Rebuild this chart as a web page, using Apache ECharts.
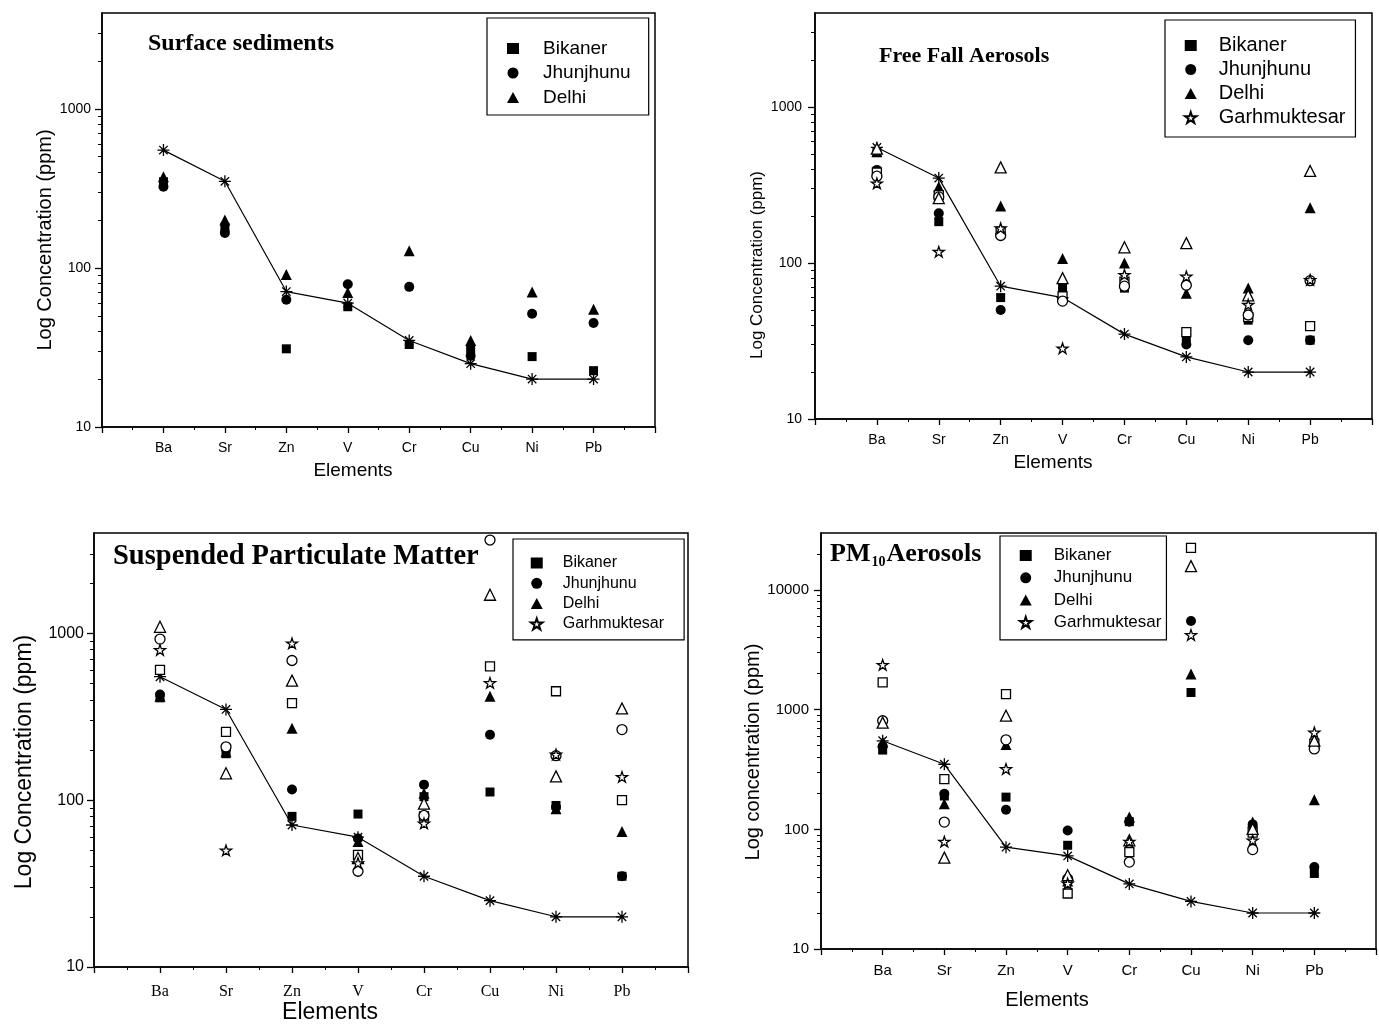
<!DOCTYPE html>
<html>
<head>
<meta charset="utf-8" />
<title>Log concentration of elements</title>
<style>
  html, body { margin: 0; padding: 0; background: #fff; }
  #chart { width: 1379px; height: 1026px; }
</style>
</head>
<body>
<div id="chart"></div>
<script src="https://cdn.jsdelivr.net/npm/echarts@6/dist/echarts.min.js"></script>
<script>
var elements = ['Ba', 'Sr', 'Zn', 'V', 'Cr', 'Cu', 'Ni', 'Pb'];
// crustal reference (asterisk line)
var crust = [550, 350, 71, 60, 35, 25, 20, 20];

// Surface sediments
var sedBikaner   = [348, 180, 31, 57, 33, 31, 27.7, 22.6];
var sedJhunjhunu = [324, 166, 63, 79, 76, 28, 51.5, 45];
var sedDelhi     = [374, 200, 91, 70, 128, 35, 70.5, 55];

// Free fall aerosols
var ffBikaner       = [510, 184, 60, 69, 69, 33, 43, 32];
var ffJhunjhunu     = [395, 208, 50, 58, 70, 30, 32, 32];
var ffDelhi         = [516, 308, 232, 107, 100, 64, 69, 226];
var ffGarh          = [324, 118, 167, 28.4, 84, 82, 54, 78];
var ffBikanerOpen   = [380, 272, 159, 61, 76, 36, 45, 39.4];
var ffJhunjhunuOpen = [360, 265, 150, 57, 71, 72, 46.4, 77];
var ffDelhiOpen     = [540, 260, 410, 80, 126, 134, 62, 389];

// Suspended particulate matter
var spmBikaner       = [411, 190, 80, 82.6, 105, 112, 93, 35];
var spmJhunjhunu     = [430, 203, 116, 59, 124, 247, 91, 35];
var spmDelhi         = [420, 195, 270, 56.5, 110, 420, 89, 65];
var spmGarh          = [796, 50, 872, 42, 72.6, 505, 188, 138];
var spmBikanerOpen   = [605, 257, 382, 47, 80, 634, 450, 100];
var spmJhunjhunuOpen = [925, 209, 688, 37.5, 81, 3630, 185, 265];
var spmDelhiOpen     = [1096, 145, 521, 45, 95.5, 1706, 139, 355];

// PM10 aerosols
var pmBikaner       = [460, 190, 186, 73.6, 116, 1393, 95, 42.8];
var pmJhunjhunu     = [494, 198, 146, 98, 116, 5520, 110, 48.5];
var pmDelhi         = [536, 164, 511, 37, 127, 1986, 115, 177];
var pmGarh          = [2371, 79, 320, 35.3, 79, 4217, 81, 646];
var pmBikanerOpen   = [1690, 263, 1352, 29.1, 64.6, 22540, 94, 520];
var pmJhunjhunuOpen = [809, 115, 560, 38.5, 53.3, null, 67.7, 470];
var pmDelhiOpen     = [780, 58, 891, 41.4, 81, 15850, 101, 552];

var yMajors = [10, 100, 1000];
var yMajorsPm = [10, 100, 1000, 10000];

var SANS = 'Liberation Sans';
var SERIF = 'Liberation Serif';
var STAR = 'path://M50,2L61.8,38L99,38L69,60L80.5,96L50,74L19.5,96L31,60L1,38L38.2,38Z';
var ASTER = 'path://M50,0L50,100M0,50L100,50M15,15L85,85M15,85L85,15';

var chart = echarts.init(document.getElementById('chart'));

function pts(arr) {
  var out = [];
  for (var i = 0; i < arr.length; i++) {
    if (arr[i] != null) out.push([i + 1, arr[i]]);
  }
  return out;
}

function minorTicks(max) {
  var res = [];
  for (var d = 10; d < max; d *= 10) {
    for (var k = 2; k <= 9; k++) {
      if (k * d < max) res.push(k * d);
    }
  }
  return res;
}

var grids = [
  { left: 102, top: 13, width: 553, height: 414 },
  { left: 815, top: 13, width: 557, height: 406 },
  { left: 94, top: 533, width: 594, height: 434 },
  { left: 821, top: 533, width: 559, height: 416 }
];
var yMax = [4000, 4000, 4000, 30000];
var tickFont = [
  { y: 14, x: 14, xFam: SANS, yMargin: 11, xMargin: 14 },
  { y: 14, x: 14, xFam: SANS, yMargin: 13, xMargin: 14 },
  { y: 16, x: 16, xFam: SERIF, yMargin: 10, xMargin: 17 },
  { y: 15, x: 15, xFam: SANS, yMargin: 12, xMargin: 14 }
];

var xAxes = [], yAxes = [];
grids.forEach(function (g, i) {
  g.show = true;
  g.borderColor = '#000';
  g.borderWidth = 1.5;
  g.containLabel = false;
  var f = tickFont[i];
  xAxes.push({
    type: 'value', gridIndex: i, min: 0, max: 9, interval: 1,
    axisLine: { lineStyle: { color: '#000', width: 1.5 } },
    axisTick: { length: 6, lineStyle: { color: '#000', width: 1.3 } },
    minorTick: { show: true, splitNumber: 2, length: 3, lineStyle: { color: '#000', width: 1 } },
    splitLine: { show: false },
    axisLabel: {
      color: '#000', fontFamily: f.xFam, fontSize: f.x, margin: f.xMargin,
      formatter: function (v) { return elements[v - 1] || ''; }
    }
  });
  var majors = i === 3 ? yMajorsPm : yMajors;
  yAxes.push({
    type: 'log', gridIndex: i, min: 10, max: yMax[i], position: 'left',
    axisLine: { show: true, lineStyle: { color: '#000', width: 1.5 } },
    axisTick: { show: true, length: 7, customValues: majors, lineStyle: { color: '#000', width: 1.3 } },
    axisLabel: {
      customValues: majors, color: '#000', fontFamily: SANS, fontSize: f.y, margin: f.yMargin,
      formatter: function (v) { return String(v); }
    },
    splitLine: { show: false }
  });
  yAxes.push({
    type: 'log', gridIndex: i, min: 10, max: yMax[i], position: 'left',
    axisLine: { show: false },
    axisLabel: { show: false },
    splitLine: { show: false },
    axisTick: { show: true, length: 4, customValues: minorTicks(yMax[i]), lineStyle: { color: '#000', width: 1 } }
  });
});

var filled = { color: '#000', opacity: 1 };
var hollow = { color: '#fff', borderColor: '#000', borderWidth: 1.3, opacity: 1 };

function scatter(name, arr, gi, symbol, size, style) {
  return {
    name: name, type: 'scatter', xAxisIndex: gi, yAxisIndex: gi * 2,
    symbol: symbol, symbolSize: size, symbolKeepAspect: true,
    itemStyle: style, data: pts(arr), z: 3
  };
}
function crustLine(gi) {
  return {
    name: 'Crust', type: 'line', xAxisIndex: gi, yAxisIndex: gi * 2,
    symbol: ASTER, symbolSize: 12, showAllSymbol: true,
    itemStyle: { color: '#000', borderColor: '#000', borderWidth: 1.3 },
    lineStyle: { color: '#000', width: 1.2 },
    data: pts(crust), z: 2
  };
}

var series = [
  crustLine(0),
  scatter('Bikaner', sedBikaner, 0, 'rect', 9, filled),
  scatter('Jhunjhunu', sedJhunjhunu, 0, 'circle', 10, filled),
  scatter('Delhi', sedDelhi, 0, 'triangle', 11, filled),

  crustLine(1),
  scatter('Bikaner', ffBikaner, 1, 'rect', 9, filled),
  scatter('Jhunjhunu', ffJhunjhunu, 1, 'circle', 10, filled),
  scatter('Delhi', ffDelhi, 1, 'triangle', 11, filled),
  scatter('Bikaner (open)', ffBikanerOpen, 1, 'rect', 9, hollow),
  scatter('Jhunjhunu (open)', ffJhunjhunuOpen, 1, 'circle', 10, hollow),
  scatter('Delhi (open)', ffDelhiOpen, 1, 'triangle', 11, hollow),
  scatter('Garhmuktesar', ffGarh, 1, STAR, 11, hollow),

  crustLine(2),
  scatter('Bikaner', spmBikaner, 2, 'rect', 9, filled),
  scatter('Jhunjhunu', spmJhunjhunu, 2, 'circle', 10, filled),
  scatter('Delhi', spmDelhi, 2, 'triangle', 11, filled),
  scatter('Bikaner (open)', spmBikanerOpen, 2, 'rect', 9, hollow),
  scatter('Jhunjhunu (open)', spmJhunjhunuOpen, 2, 'circle', 10, hollow),
  scatter('Delhi (open)', spmDelhiOpen, 2, 'triangle', 11, hollow),
  scatter('Garhmuktesar', spmGarh, 2, STAR, 11, hollow),

  crustLine(3),
  scatter('Bikaner', pmBikaner, 3, 'rect', 9, filled),
  scatter('Jhunjhunu', pmJhunjhunu, 3, 'circle', 10, filled),
  scatter('Delhi', pmDelhi, 3, 'triangle', 11, filled),
  scatter('Bikaner (open)', pmBikanerOpen, 3, 'rect', 9, hollow),
  scatter('Jhunjhunu (open)', pmJhunjhunuOpen, 3, 'circle', 10, hollow),
  scatter('Delhi (open)', pmDelhiOpen, 3, 'triangle', 11, hollow),
  scatter('Garhmuktesar', pmGarh, 3, STAR, 11, hollow)
];

// icon 12px wide, text pushed right by textPad
function legendBox(names, left, top, pad, textPad, itemGap, fontSize) {
  return {
    data: names, orient: 'vertical', left: left, top: top, padding: pad,
    itemWidth: 12, itemHeight: 11, itemGap: itemGap, symbolKeepAspect: true,
    borderColor: '#000', borderWidth: 1.2, backgroundColor: '#fff',
    selectedMode: false, z: 10,
    textStyle: { color: '#000', fontFamily: SANS, fontSize: fontSize, padding: [0, 0, 0, textPad] }
  };
}

var three = ['Bikaner', 'Jhunjhunu', 'Delhi'];
var four = ['Bikaner', 'Jhunjhunu', 'Delhi', 'Garhmuktesar'];

var titleStyle = { color: '#000', fontFamily: SERIF, fontWeight: 'bold' };

var option = {
  animation: false,
  backgroundColor: '#fff',
  grid: grids,
  xAxis: xAxes,
  yAxis: yAxes,
  title: [
    { text: 'Surface sediments', left: 148, top: 32, padding: 0,
      textStyle: Object.assign({ fontSize: 24 }, titleStyle) },
    { text: 'Free Fall Aerosols', left: 879, top: 45, padding: 0,
      textStyle: Object.assign({ fontSize: 22 }, titleStyle) },
    { text: 'Suspended Particulate Matter', left: 113, top: 542, padding: 0,
      textStyle: Object.assign({ fontSize: 28.5 }, titleStyle) },
    { text: '{b|PM}{s|10}{b|Aerosols}', left: 830, top: 539, padding: 0,
      textStyle: {
        rich: {
          b: { fontFamily: SERIF, fontWeight: 'bold', fontSize: 26, lineHeight: 30, verticalAlign: 'middle', color: '#000' },
          s: { fontFamily: SERIF, fontWeight: 'bold', fontSize: 14, lineHeight: 14, verticalAlign: 'bottom', color: '#000', padding: [0, 1, 0, 1] }
        }
      } }
  ],
  legend: [
    legendBox(three, 487, 18, [21, 18, 8, 20], 19, 5.5, 19),
    legendBox(four, 1165, 20, [15.5, 10, 9.5, 19], 17, 4, 20),
    legendBox(four, 513, 539, [16, 20, 8, 17], 15, 4.3, 16),
    legendBox(four, 1000, 536, [11, 5, 9, 19], 17, 5.3, 17)
  ],
  graphic: [
    { type: 'text', x: 45, y: 240, rotation: Math.PI / 2,
      style: { text: 'Log Concentration (ppm)', fontFamily: SANS, fontSize: 20, fill: '#000', textAlign: 'center', textVerticalAlign: 'middle' } },
    { type: 'text', x: 353, y: 471,
      style: { text: 'Elements', fontFamily: SANS, fontSize: 19, fill: '#000', textAlign: 'center', textVerticalAlign: 'middle' } },
    { type: 'text', x: 757, y: 265, rotation: Math.PI / 2,
      style: { text: 'Log Concentration (ppm)', fontFamily: SANS, fontSize: 17, fill: '#000', textAlign: 'center', textVerticalAlign: 'middle' } },
    { type: 'text', x: 1053, y: 463,
      style: { text: 'Elements', fontFamily: SANS, fontSize: 19, fill: '#000', textAlign: 'center', textVerticalAlign: 'middle' } },
    { type: 'text', x: 25, y: 762, rotation: Math.PI / 2,
      style: { text: 'Log Concentration (ppm)', fontFamily: SANS, fontSize: 23, fill: '#000', textAlign: 'center', textVerticalAlign: 'middle' } },
    { type: 'text', x: 330, y: 1013,
      style: { text: 'Elements', fontFamily: SANS, fontSize: 23, fill: '#000', textAlign: 'center', textVerticalAlign: 'middle' } },
    { type: 'text', x: 753, y: 752, rotation: Math.PI / 2,
      style: { text: 'Log concentration (ppm)', fontFamily: SANS, fontSize: 20, fill: '#000', textAlign: 'center', textVerticalAlign: 'middle' } },
    { type: 'text', x: 1047, y: 1000,
      style: { text: 'Elements', fontFamily: SANS, fontSize: 20, fill: '#000', textAlign: 'center', textVerticalAlign: 'middle' } }
  ],
  series: series
};

chart.setOption(option);

window.addEventListener('resize', function () {
  chart.resize();
});
</script>
</body>
</html>
